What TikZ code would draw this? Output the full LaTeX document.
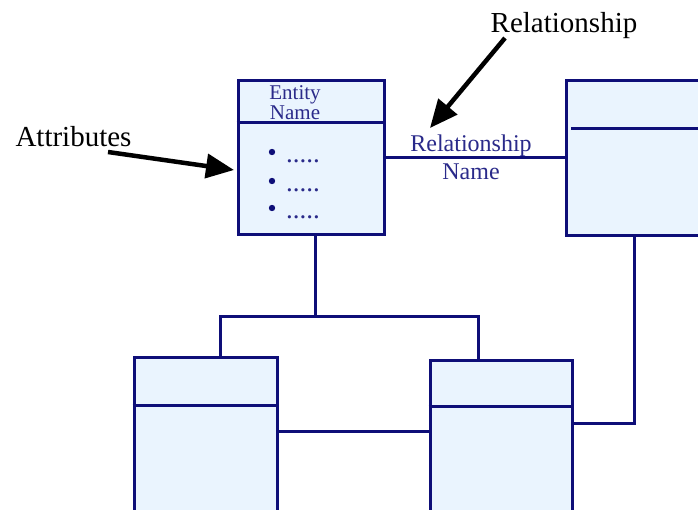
\documentclass[tikz,border=0pt]{standalone}
\usepackage{fontspec}
\setmainfont{Liberation Serif}
\usetikzlibrary{arrows.meta}
\definecolor{navy}{HTML}{0E0E78}
\definecolor{boxfill}{HTML}{EAF4FE}
\definecolor{bluetext}{HTML}{2A2A8A}
\tikzset{
  entbox/.style={draw=navy, fill=boxfill, line width=3pt, rectangle, inner sep=0pt},
  conn/.style={draw=navy, line width=3pt},
  callout/.style={line width=4.5pt, black, -{Triangle[length=28pt,width=24pt]}},
  blabel/.style={text=bluetext, inner sep=0pt},
  klabel/.style={text=black, inner sep=0pt, font=\fontsize{29}{30}\selectfont}
}
\begin{document}
\begin{tikzpicture}[x=1pt,y=-1pt]
\useasboundingbox (0,0) rectangle (698,510);
\clip (0,0) rectangle (698,510);
\fill[white] (0,0) rectangle (698,510);
% boxes
\node[entbox, minimum width=146pt, minimum height=154pt] (ent) at (311,158) {};
\node[entbox, minimum width=194pt, minimum height=155pt] (rb) at (663,158.5) {};
\node[entbox, minimum width=143pt, minimum height=203pt] (bl) at (205.5,458.5) {};
\node[entbox, minimum width=142pt, minimum height=200pt] (bm) at (501,460) {};
% dividers
\draw[conn] (ent.west |- 0,123) -- (ent.east |- 0,123);
\draw[conn] (571,129) -- (rb.east |- 0,129);
\draw[conn] (bl.west |- 0,405) -- (bl.east |- 0,405);
\draw[conn] (bm.west |- 0,406) -- (bm.east |- 0,406);
% entity text
\node[blabel, font=\fontsize{21}{21}\selectfont, anchor=base] (et1) at (295,100) {Entity};
\node[blabel, font=\fontsize{21}{21}\selectfont, anchor=base] (et2) at (295,120) {Name};
\fill[navy] (272,152) circle (3.2pt);
\fill[navy] (272,181) circle (3.2pt);
\fill[navy] (272,208) circle (3.2pt);
\node[blabel, font=\fontsize{27}{27}\selectfont, anchor=base west] (d1) at (286,163) {.....};
\node[blabel, font=\fontsize{27}{27}\selectfont, anchor=base west] (d2) at (286,192) {.....};
\node[blabel, font=\fontsize{27}{27}\selectfont, anchor=base west] (d3) at (286,219) {.....};
% relationship label
\node[blabel, font=\fontsize{24}{24}\selectfont, anchor=base] (rn1) at (471,152) {Relationship};
\node[blabel, font=\fontsize{24}{24}\selectfont, anchor=base] (rn2) at (471,180) {Name};
% connectors
\draw[conn] (ent.east) -- (rb.west |- ent.east);
\coordinate (j0) at (315,316);
\coordinate (j1) at (220,316);
\coordinate (j2) at (478,316);
\draw[conn] (ent.south -| j0) -- (j0);
\draw[conn] (bl.north -| j1) -- (j1) -- (j2) -- (bm.north -| j2);
\coordinate (h1) at (300,431);
\draw[conn] (bl.east |- h1) -- (bm.west |- h1);
\coordinate (k1) at (634,423);
\draw[conn] (rb.south -| k1) -- (k1) -- (bm.east |- k1);
% callouts
\node[klabel, anchor=base] (attr) at (73.5,147) {Attributes};
\node[klabel, anchor=base] (rel) at (564,33) {Relationship};
\coordinate (a1) at (108,152);
\coordinate (a2) at (234,170);
\coordinate (r1) at (505,38);
\coordinate (r2) at (430,128);
\draw[callout] (a1) -- (a2);
\draw[callout] (r1) -- (r2);
\end{tikzpicture}
\end{document}
